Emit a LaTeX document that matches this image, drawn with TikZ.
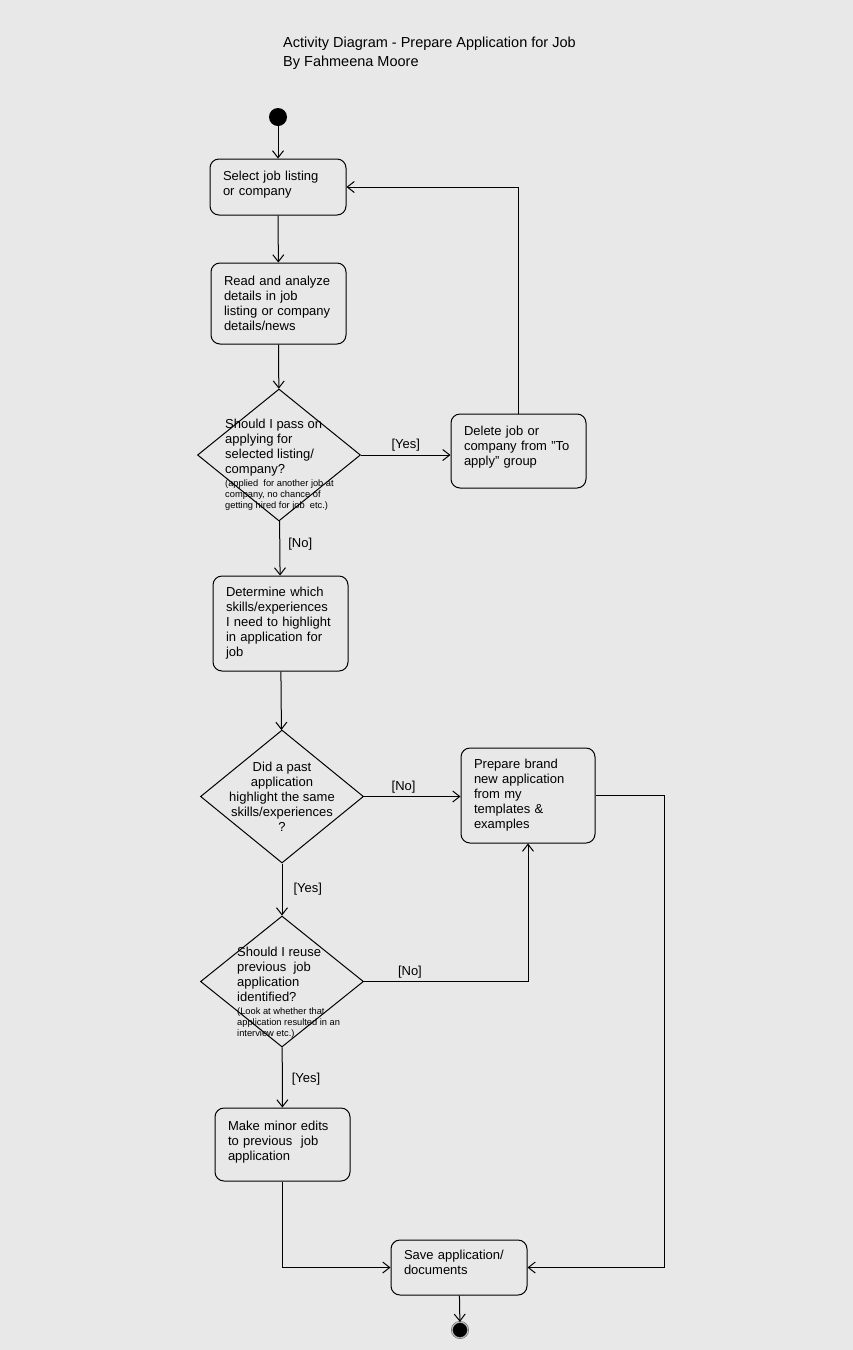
\documentclass[tikz,border=0pt]{standalone}
\usepackage{fontspec}
\setmainfont{Liberation Sans}
\usetikzlibrary{shapes.geometric}
\usetikzlibrary{arrows.meta}
\usetikzlibrary{calc}
\definecolor{paper}{HTML}{E8E8E8}
\tikzset{activity/.style={draw, rounded corners=9pt, line width=1pt, align=left, inner xsep=13pt, inner ysep=0pt, font=\fontsize{13}{15}\selectfont}}
\tikzset{decision/.style={diamond, draw, line width=1pt, inner sep=0pt, minimum width=163pt, minimum height=132pt}}
\tikzset{flow/.style={line width=1pt, -{Straight Barb[length=7pt,width=11pt]}}}
\tikzset{lbl/.style={font=\fontsize{13}{15}\selectfont, inner sep=3pt}}
\tikzset{note/.style={anchor=north west, inner sep=0pt, align=left, font=\fontsize{9.3}{11}\selectfont}}
\newcommand{\lift}[1]{\rule[-#1]{0pt}{#1}}

\begin{document}
\begin{tikzpicture}[x=1pt, y=-1pt]
            \fill[paper] (0,0) rectangle (853,1350);
            \useasboundingbox (0,0) rectangle (853,1350);
            % title
            \node[anchor=west, inner sep=0pt, font=\fontsize{14.5}{17}\selectfont] (ttl) at (283,44) {Activity Diagram - Prepare Application for Job};
            \node[anchor=west, inner sep=0pt, font=\fontsize{14.5}{17}\selectfont] (auth) at (283,63) {By Fahmeena Moore};
            % start and end
            \node[circle, fill=black, inner sep=0pt, minimum size=18pt] (start) at (278,117) {};
            \node[circle, fill=black, draw=black!70, double=black!25, double distance=1pt, inner sep=0pt, minimum size=16pt] (stop) at (460,1330) {};
            % activities
            \node[activity, minimum width=136pt, minimum height=56pt, text width=110pt] (sel) at (278,187) {Select job listing\\or company\lift{7pt}};
            \node[activity, minimum width=135pt, minimum height=81pt, text width=109pt] (read) at (278.5,303.5) {Read and analyze\\details in job\\listing or company\\details/news};
            \node[activity, minimum width=135pt, minimum height=74pt, text width=109pt] (del) at (518.5,451) {Delete job or\\company from "To\\apply" group\lift{11pt}};
            \node[activity, minimum width=135pt, minimum height=95pt, text width=109pt] (det) at (280.5,623.5) {Determine which\\skills/experiences\\I need to highlight\\in application for\\job};
            \node[activity, minimum width=134pt, minimum height=95pt, text width=108pt] (new) at (528,795.5) {Prepare brand\\new application\\from my\\templates \&\\examples};
            \node[activity, minimum width=135pt, minimum height=73pt, text width=109pt] (edit) at (282.5,1144.5) {Make minor edits\\to previous\ \ job\\application\lift{7pt}};
            \node[activity, minimum width=136pt, minimum height=55pt, text width=110pt] (save) at (459,1267.5) {Save application/\\documents\lift{11pt}};
            % decisions
            \node[decision] (d1) at (279,455) {};
            \node[decision, minimum height=133pt] (d2) at (282,796.5) {};
            \node[decision, minimum height=131pt] (d3) at (282,981.5) {};
            \node[anchor=north west, inner sep=0pt, align=left, font=\fontsize{13}{15}\selectfont] (d1txt) at (225,419) {Should I pass on\\applying for\\selected listing/\\company?};
            \node[note] (d1note) at (225,480) {(applied\ \ for another job at\\company, no chance of\\getting hired for job\ \ etc.)};
            \node[align=center, inner sep=0pt, font=\fontsize{13}{15}\selectfont] (d2txt) at (d2) {Did a past\\application\\highlight the same\\skills/experiences\\?};
            \node[anchor=north west, inner sep=0pt, align=left, font=\fontsize{13}{15}\selectfont] (d3txt) at (237,947) {Should I reuse\\previous\ \ job\\application\\identified?};
            \node[note] (d3note) at (237,1008) {(Look at whether that\\application resulted in an\\interview etc.)};
            % flows
            \draw[flow] (start) -- (sel);
            \draw[flow] (sel) -- (read);
            \draw[flow] (read) -- (d1);
            \draw[flow] (d1.east) -- node[lbl, above] {[Yes]} (d1.east -| del.west);
            \draw[flow] (del.north) |- (sel.east);
            \draw[flow] (d1) -- node[lbl, right=5pt, pos=0.42] {[No]} (det);
            \draw[flow] (det) -- (d2);
            \draw[flow] (d2.east) -- node[lbl, above, pos=0.41] {[No]} (d2.east -| new.west);
            \draw[flow] (d2) -- node[lbl, right=8pt] {[Yes]} (d3);
            \draw[flow] (d3.east) -- node[lbl, above, pos=0.28] {[No]} (d3.east -| new.south) -- (new.south);
            \draw[flow] (d3) -- node[lbl, right=6pt, pos=0.52] {[Yes]} (edit);
            \draw[flow] (edit.south) |- (save.west);
            \draw[flow] (new.east) -- ++(69,0) |- (save.east);
            \draw[flow] (save) -- (stop);
\end{tikzpicture}
\end{document}
